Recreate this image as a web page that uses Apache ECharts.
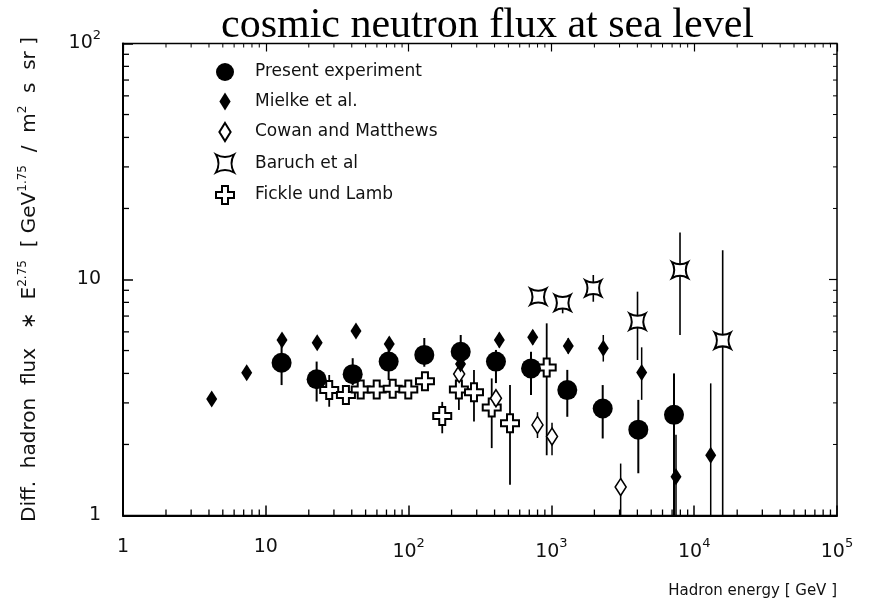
<!DOCTYPE html>
<html><head><meta charset="utf-8">
<script src="https://cdn.jsdelivr.net/npm/echarts@6/dist/echarts.min.js"></script>
<style>html,body{margin:0;padding:0;background:#fff}#c{width:876px;height:606px}</style>
</head><body><div id="c"></div>
<script>
const seriesNames = ['Present experiment', 'Mielke et al.', 'Cowan and Matthews', 'Baruch et al', 'Fickle und Lamb'];
const titleText = 'cosmic neutron flux at sea level';
const xAxisName = 'Hadron energy [ GeV ]';
const yAxisName = 'Diff.  hadron  flux   \u2217  E{sup|2.75}  [ GeV{sup|1.75}  /  m{sup|2}  s  sr ]';
const decadeLabels = ['1', '10', '10{sup|2}', '10{sup|3}', '10{sup|4}', '10{sup|5}'];
const minorXValues = [2,3,4,5,6,7,8,9,20,30,40,50,60,70,80,90,200,300,400,500,600,700,800,900,
  2000,3000,4000,5000,6000,7000,8000,9000,20000,30000,40000,50000,60000,70000,80000,90000];
const minorYValues = [2,3,4,5,6,7,8,9,20,30,40,50,60,70,80,90];

const presentX  = [12.9, 22.7, 40.6, 72.5, 128.8, 231.7, 409, 720, 1292, 2287, 4061, 7220];
const presentY  = [4.44, 3.78, 3.97, 4.49, 4.79, 4.94, 4.49, 4.20, 3.40, 2.84, 2.31, 2.67];
const presentLo = [3.57, 3.04, 3.57, 3.75, 4.27, 4.30, 3.64, 3.24, 2.62, 2.12, 1.51, 1.0];
const presentHi = [5.38, 4.49, 4.64, 5.03, 5.65, 5.82, 5.03, 4.94, 4.14, 3.57, 3.09, 4.00];

const mielkeX  = [4.18, 7.35, 12.99, 22.9, 42.8, 73.2, 231, 432, 740, 1313, 2309, 4287, 7457, 13050];
const mielkeY  = [3.12, 4.03, 5.54, 5.40, 6.05, 5.33, 4.38, 5.54, 5.69, 5.23, 5.11, 4.04, 1.46, 1.80];
const mielkeLo = [3.12, 4.03, 5.54, 5.40, 6.05, 5.33, 4.38, 5.15, 5.30, 4.85, 4.49, 3.09, 1.0, 1.0];
const mielkeHi = [3.12, 4.03, 5.54, 5.40, 6.05, 5.70, 4.38, 5.95, 6.10, 5.65, 5.82, 5.16, 2.20, 3.63];

const cowanX  = [226, 409, 799, 1010, 3055];
const cowanY  = [3.98, 3.14, 2.42, 2.16, 1.32];
const cowanLo = [3.98, 3.14, 2.13, 1.80, 1.0];
const cowanHi = [3.98, 3.14, 2.74, 2.47, 1.66];

const baruchX  = [809, 1199, 1965, 4009, 7955, 15830];
const baruchY  = [8.46, 7.97, 9.18, 6.63, 10.97, 5.51];
const baruchLo = [8.46, 7.19, 8.05, 4.56, 5.82, 1.0];
const baruchHi = [8.46, 8.40, 10.45, 8.88, 15.8, 13.3];

const fickleX  = [27.8, 36.4, 46.2, 59.8, 77.4, 99.5, 130.2, 172, 225, 287, 382, 513, 927];
const fickleY  = [3.40, 3.24, 3.42, 3.42, 3.44, 3.42, 3.71, 2.64, 3.42, 3.33, 2.87, 2.46, 4.24];
const fickleLo = [2.89, 2.97, 3.14, 3.14, 3.16, 3.14, 3.42, 2.23, 2.80, 2.50, 1.93, 1.35, 1.80];
const fickleHi = [3.94, 3.54, 3.70, 3.70, 3.72, 3.70, 4.02, 3.03, 4.14, 4.14, 3.81, 3.57, 6.52];

const SYM_DIAMOND = 'path://M5,0L10,8L5,16L0,8Z';
const SYM_CROSS = 'path://M6,0H12V6H18V12H12V18H6V12H0V6H6Z';
const SYM_STAR = 'path://M0,0Q9,5 18,0Q13,9 18,18Q9,13 0,18Q5,9 0,0Z';

function pts(xs, ys) { return xs.map((x, i) => [x, ys[i]]); }
function bars(xs, lo, hi) { return xs.map((x, i) => [x, lo[i], hi[i]]); }
function errSeries(name, data, w) {
  return {
    name: name, type: 'custom', data: data, z: 2, silent: true,
    encode: { x: 0, y: [1, 2] },
    renderItem: function (params, api) {
      const x = api.value(0), lo = api.value(1), hi = api.value(2);
      if (!(hi > lo)) return null;
      const p1 = api.coord([x, lo]), p2 = api.coord([x, hi]);
      return { type: 'line', shape: { x1: p1[0], y1: p1[1], x2: p2[0], y2: p2[1] },
        style: { stroke: '#000', lineWidth: w } };
    }
  };
}

const chart = echarts.init(document.getElementById('c'), null, { renderer: 'canvas' });
const fontSans = 'DejaVu Sans';
const labelRich = { sup: { fontSize: 13, padding: [0, 0, 16, 0], fontFamily: fontSans, color: '#111' } };

chart.setOption({
  backgroundColor: '#fff',
  animation: false,
  title: {
    text: titleText, left: 216, top: 0,
    textStyle: { fontFamily: 'Liberation Serif', fontSize: 42, fontWeight: 'normal', color: '#000' }
  },
  legend: {
    data: seriesNames, orient: 'vertical', left: 210, top: 58,
    itemWidth: 50, itemHeight: 18, itemGap: 11.5,
    textStyle: { fontFamily: fontSans, fontSize: 17, color: '#111' }
  },
  grid: { left: 123, right: 39, top: 43.5, bottom: 90.5, show: true, borderColor: '#000', borderWidth: 1.5, containLabel: false },
  xAxis: [{
    type: 'log', logBase: 10, min: 1, max: 100000,
    name: xAxisName, nameLocation: 'end', nameGap: 0,
    nameTextStyle: { fontFamily: fontSans, fontSize: 15, color: '#111', align: 'right', verticalAlign: 'top', padding: [68, 0, 0, 0] },
    axisLine: { lineStyle: { color: '#000', width: 2 } },
    axisTick: { inside: true, length: 10, lineStyle: { color: '#000', width: 1.5 } },
    splitLine: { show: false },
    axisLabel: {
      margin: 22, fontFamily: fontSans, fontSize: 19, color: '#111', rich: labelRich,
      formatter: function (v) { return decadeLabels[Math.round(Math.log10(v))]; }
    }
  }, {
    type: 'log', logBase: 10, min: 1, max: 100000, position: 'top',
    axisLine: { show: false }, axisLabel: { show: false }, splitLine: { show: false },
    axisTick: { inside: true, length: 8, lineStyle: { color: '#000', width: 1.2 } }
  }],
  yAxis: [{
    type: 'log', logBase: 10, min: 1, max: 100,
    name: yAxisName, nameLocation: 'middle', nameRotate: 90, nameGap: 80,
    nameTextStyle: { fontFamily: fontSans, fontSize: 20, color: '#111', rich: { sup: { fontSize: 12, padding: [0, 0, 14, 0], fontFamily: fontSans, color: '#111' } } },
    axisLine: { lineStyle: { color: '#000', width: 2 } },
    axisTick: { inside: true, length: 10, lineStyle: { color: '#000', width: 1.5 } },
    splitLine: { show: false },
    axisLabel: {
      margin: 22, fontFamily: fontSans, fontSize: 19, color: '#111', rich: labelRich,
      formatter: function (v) { return decadeLabels[Math.round(Math.log10(v))]; }
    }
  }, {
    type: 'log', logBase: 10, min: 1, max: 100, position: 'right',
    axisLine: { show: false }, axisLabel: { show: false }, splitLine: { show: false },
    axisTick: { inside: true, length: 8, lineStyle: { color: '#000', width: 1.2 } }
  }],
  series: [
    {
      name: 'minorX', type: 'custom', silent: true, z: 1,
      data: minorXValues.map(v => [v, 1]), encode: { x: 0, y: 1 },
      renderItem: function (params, api) {
        const b = api.coord([api.value(0), 1]), t = api.coord([api.value(0), 100]);
        return { type: 'group', children: [
          { type: 'line', shape: { x1: b[0], y1: b[1], x2: b[0], y2: b[1] - 6 }, style: { stroke: '#000', lineWidth: 1.3 } },
          { type: 'line', shape: { x1: t[0], y1: t[1], x2: t[0], y2: t[1] + 4 }, style: { stroke: '#000', lineWidth: 1 } }
        ] };
      }
    },
    {
      name: 'minorY', type: 'custom', silent: true, z: 1,
      data: minorYValues.map(v => [1, v]), encode: { x: 0, y: 1 },
      renderItem: function (params, api) {
        const l = api.coord([1, api.value(1)]), r = api.coord([100000, api.value(1)]);
        return { type: 'group', children: [
          { type: 'line', shape: { x1: l[0], y1: l[1], x2: l[0] + 6, y2: l[1] }, style: { stroke: '#000', lineWidth: 1.3 } },
          { type: 'line', shape: { x1: r[0], y1: r[1], x2: r[0] - 4, y2: r[1] }, style: { stroke: '#000', lineWidth: 1 } }
        ] };
      }
    },
    errSeries('errPresent', bars(presentX, presentLo, presentHi), 2),
    errSeries('errMielke', bars(mielkeX, mielkeLo, mielkeHi), 1.5),
    errSeries('errCowan', bars(cowanX, cowanLo, cowanHi), 1.5),
    errSeries('errBaruch', bars(baruchX, baruchLo, baruchHi), 1.6),
    errSeries('errFickle', bars(fickleX, fickleLo, fickleHi), 1.8),
    { name: seriesNames[4], type: 'scatter', z: 3, data: pts(fickleX, fickleY), symbol: SYM_CROSS, symbolSize: [18, 18],
      itemStyle: { color: '#fff', borderColor: '#000', borderWidth: 2, opacity: 1 } },
    { name: seriesNames[2], type: 'scatter', z: 3, data: pts(cowanX, cowanY), symbol: SYM_DIAMOND, symbolSize: [11, 17],
      itemStyle: { color: '#fff', borderColor: '#000', borderWidth: 1.6, opacity: 1 } },
    { name: seriesNames[3], type: 'scatter', z: 3, data: pts(baruchX, baruchY), symbol: SYM_STAR, symbolSize: [16, 16],
      itemStyle: { color: '#fff', borderColor: '#000', borderWidth: 2, opacity: 1 } },
    { name: seriesNames[1], type: 'scatter', z: 4, data: pts(mielkeX, mielkeY), symbol: SYM_DIAMOND, symbolSize: [11, 17],
      itemStyle: { color: '#000', opacity: 1 } },
    { name: seriesNames[0], type: 'scatter', z: 4, data: pts(presentX, presentY), symbol: 'circle', symbolSize: 20,
      itemStyle: { color: '#000', opacity: 1 } }
  ]
});
</script></body></html>
